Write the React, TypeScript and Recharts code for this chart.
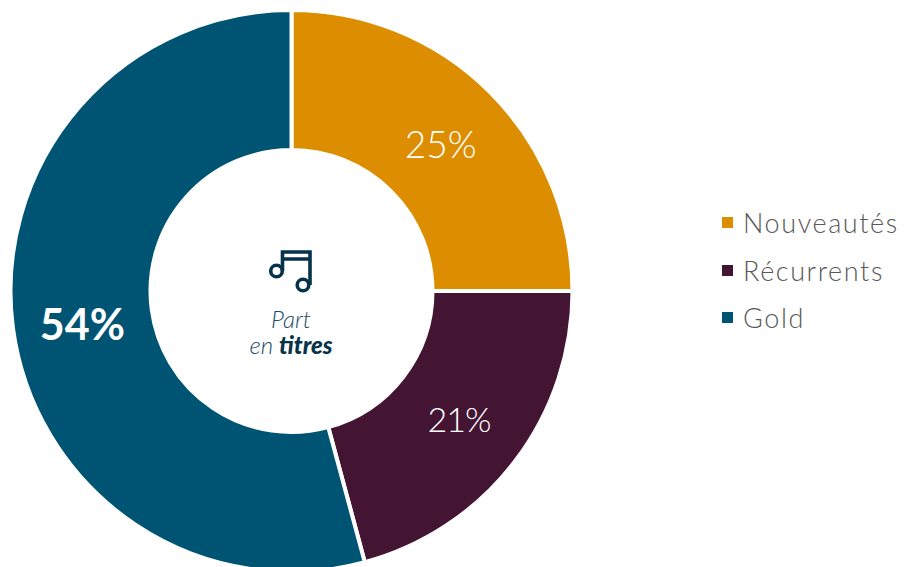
import React from "react";
import { PieChart, Pie, Cell, Legend } from "recharts";

const categories = ["Nouveautés", "Récurrents", "Gold"];
const shares = [25, 20.8, 54.2];
const colors = ["#DD8E00", "#431532", "#005473"];
const rows = categories.map((name, i) => ({ name, value: shares[i] }));
const FONT = "Lato, 'Open Sans', sans-serif";
const RAD = Math.PI / 180;

function renderLabel(p: any) {
  const r = (p.innerRadius + p.outerRadius) / 2;
  const x = p.cx + r * Math.cos(-p.midAngle * RAD);
  const y = p.cy + r * Math.sin(-p.midAngle * RAD);
  const big = p.value > 50;
  const mid = p.value < 25;
  return (
    <text x={x} y={y + (big ? 5 : mid ? -1 : 2)} fill="#fff" textAnchor="middle" dominantBaseline="central"
      fontFamily={FONT} fontSize={big ? 43 : mid ? 34 : 37} fontWeight={big ? 700 : 300}
      letterSpacing={mid ? -1 : 0}>
      {Math.round(p.value)}%
    </text>
  );
}

function renderLegend(props: any) {
  return (
    <div style={{ fontFamily: FONT }}>
      {props.payload.map((e: any) => (
        <div key={e.value} style={{ display: "flex", alignItems: "center", height: 47.5 }}>
          <span style={{ width: 11, height: 11, background: e.color, marginRight: 10, display: "inline-block" }} />
          <span style={{ color: "#595959", fontSize: 27, letterSpacing: 1.6, fontWeight: 300, whiteSpace: "nowrap" }}>{e.value}</span>
        </div>
      ))}
    </div>
  );
}

export default function App() {
  return (
    <div style={{ position: "absolute", left: 0, top: 0, width: 905, height: 567, overflow: "hidden", background: "#fff" }}>
      <PieChart width={905} height={567} margin={{ top: 0, right: 0, bottom: 0, left: 0 }}>
        <Pie data={rows} dataKey="value" nameKey="name" cx={291.5} cy={291} innerRadius={141} outerRadius={281}
          startAngle={90} endAngle={-270} stroke="#fff" strokeWidth={4} isAnimationActive={false}
          label={renderLabel} labelLine={false}>
          {rows.map((r, i) => <Cell key={r.name} fill={colors[i]} />)}
        </Pie>
        <Legend content={renderLegend} itemSorter={null} wrapperStyle={{ left: 722, top: 199, width: 183 }} />
        <g transform="translate(270,250)" fill="none" stroke="#06324a" strokeWidth={3.6}>
          <circle cx={6.5} cy={21} r={5.8} />
          <circle cx={33} cy={35} r={5.8} />
          <path d="M12.5 21V2H40V35M12.5 9H40" />
        </g>
        <text x={291} y={328} textAnchor="middle" fontFamily={FONT} fontStyle="italic" fontSize={24} fontWeight={300} fill="#1d4d66">Part</text>
        <text x={291} y={354} textAnchor="middle" fontFamily={FONT} fontStyle="italic" fontSize={24} fontWeight={300} fill="#1d4d66">
          en <tspan fontWeight={900} fill="#06324a">titres</tspan>
        </text>
      </PieChart>
    </div>
  );
}
